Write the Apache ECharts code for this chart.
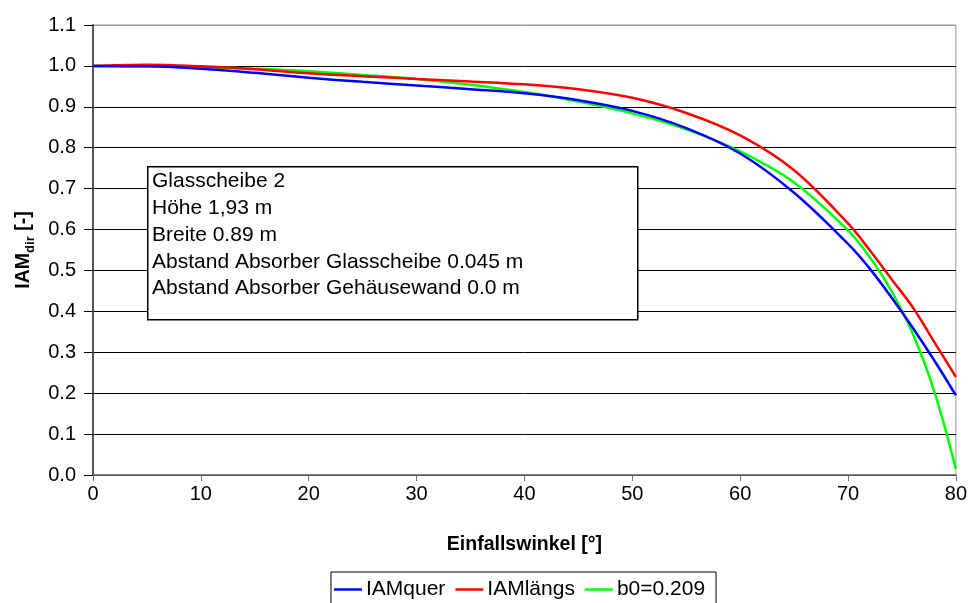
<!DOCTYPE html>
<html>
<head>
<meta charset="utf-8">
<script src="https://cdn.jsdelivr.net/npm/echarts@6/dist/echarts.min.js"></script>
<style>
  html, body { margin: 0; padding: 0; background: #fff; }
  #chart { width: 970px; height: 603px; }
</style>
</head>
<body>
<div id="chart"></div>
<script>
// Einfallswinkel in Grad
const angles = [0, 5, 10, 15, 20, 25, 30, 35, 40, 45, 50, 55, 60, 65, 70, 72, 74, 76, 78, 80];
// Einfallswinkel-Korrekturfaktoren (direkt)
const iamQuer   = [1.000, 0.999, 0.993, 0.983, 0.971, 0.961, 0.952, 0.943, 0.933, 0.916, 0.890, 0.848, 0.786, 0.690, 0.565, 0.505, 0.435, 0.360, 0.280, 0.195];
const iamLaengs = [1.000, 1.003, 0.999, 0.992, 0.982, 0.975, 0.968, 0.962, 0.955, 0.943, 0.922, 0.885, 0.830, 0.745, 0.615, 0.550, 0.480, 0.410, 0.325, 0.240];
const iamB0     = [1.000, 0.999, 0.997, 0.993, 0.987, 0.978, 0.968, 0.954, 0.936, 0.913, 0.884, 0.845, 0.791, 0.715, 0.598, 0.533, 0.451, 0.345, 0.204, 0.015];

const seriesNames = ['IAMquer', 'IAMlängs', 'b0=0.209'];
const seriesColors = ['#0000ff', '#ff0000', '#00ff00'];
const infoLines = [
  'Glasscheibe 2',
  'Höhe 1,93 m',
  'Breite 0.89 m',
  'Abstand Absorber Glasscheibe 0.045 m',
  'Abstand Absorber Gehäusewand 0.0 m'
];

const FONT = 'Liberation Sans, Arial, sans-serif';
const pairs = arr => angles.map((a, i) => [a, arr[i]]);
const values = [iamQuer, iamLaengs, iamB0];

// horizontal grid lines are black; the top one belongs to the grey frame
const gridColors = Array.from({ length: 11 }, () => '#000').concat(['#999']);

const chart = echarts.init(document.getElementById('chart'), null, { renderer: 'canvas' });

chart.setOption({
  animation: false,
  textStyle: { fontFamily: FONT },
  grid: {
    left: 93, right: 12, top: 25, bottom: 128,
    show: true, borderColor: '#999', borderWidth: 1, backgroundColor: 'transparent'
  },
  xAxis: {
    type: 'value', min: 0, max: 80, interval: 10,
    name: 'Einfallswinkel [°]', nameLocation: 'middle', nameGap: 60,
    nameTextStyle: { fontFamily: FONT, fontSize: 19.5, fontWeight: 'bold', color: '#000' },
    axisLine: { lineStyle: { color: '#6e6e6e', width: 1.5 } },
    axisTick: { show: true, length: 6, lineStyle: { color: '#6e6e6e' } },
    axisLabel: { fontFamily: FONT, fontSize: 20, color: '#000', margin: 9 },
    splitLine: { show: false }
  },
  yAxis: {
    type: 'value', min: 0, max: 1.1, interval: 0.1,
    name: '{b|IAM}{s|dir}{b| [-]}', nameLocation: 'middle', nameGap: 59, nameRotate: 90,
    nameTextStyle: {
      fontFamily: FONT, color: '#000',
      rich: {
        b: { fontFamily: FONT, fontSize: 19.5, fontWeight: 'bold', color: '#000', lineHeight: 24, verticalAlign: 'bottom' },
        s: { fontFamily: FONT, fontSize: 13, fontWeight: 'bold', color: '#000', lineHeight: 24, verticalAlign: 'bottom', padding: [0, 0, -4, 0] }
      }
    },
    axisLine: { show: true, lineStyle: { color: '#555', width: 2 } },
    axisTick: { show: true, length: 9, lineStyle: { color: '#000' } },
    axisLabel: { fontFamily: FONT, fontSize: 20, color: '#000', margin: 17, formatter: v => v.toFixed(1) },
    splitLine: { show: true, lineStyle: { color: gridColors, width: 1 } }
  },
  legend: {
    left: 331, top: 572,
    data: seriesNames,
    icon: 'rect',
    itemWidth: 28, itemHeight: 2.5, itemGap: 10,
    padding: [7, 11, 10, 3],
    borderColor: '#000', borderWidth: 1,
    textStyle: { fontFamily: FONT, fontSize: 21, color: '#000', padding: [0, 0, 0, -1] }
  },
  series: seriesNames.map((n, i) => ({
    name: n, type: 'line', data: pairs(values[i]),
    smooth: 0.35, symbol: 'none', z: 3 + (2 - i),
    lineStyle: { color: seriesColors[i], width: 2.5 },
    itemStyle: { color: seriesColors[i] }
  })),
  graphic: [
    {
      type: 'rect', left: 147, top: 166, z: 100,
      shape: { x: 0, y: 0, width: 490, height: 153 },
      style: { fill: '#fff', stroke: '#000', lineWidth: 1.5 }
    },
    ...infoLines.map((t, i) => ({
      type: 'text', left: 152, top: 171 + i * 26.8, z: 101,
      style: { text: t, fontFamily: FONT, fontSize: 21, fill: '#000' }
    }))
  ]
});
</script>
</body>
</html>
